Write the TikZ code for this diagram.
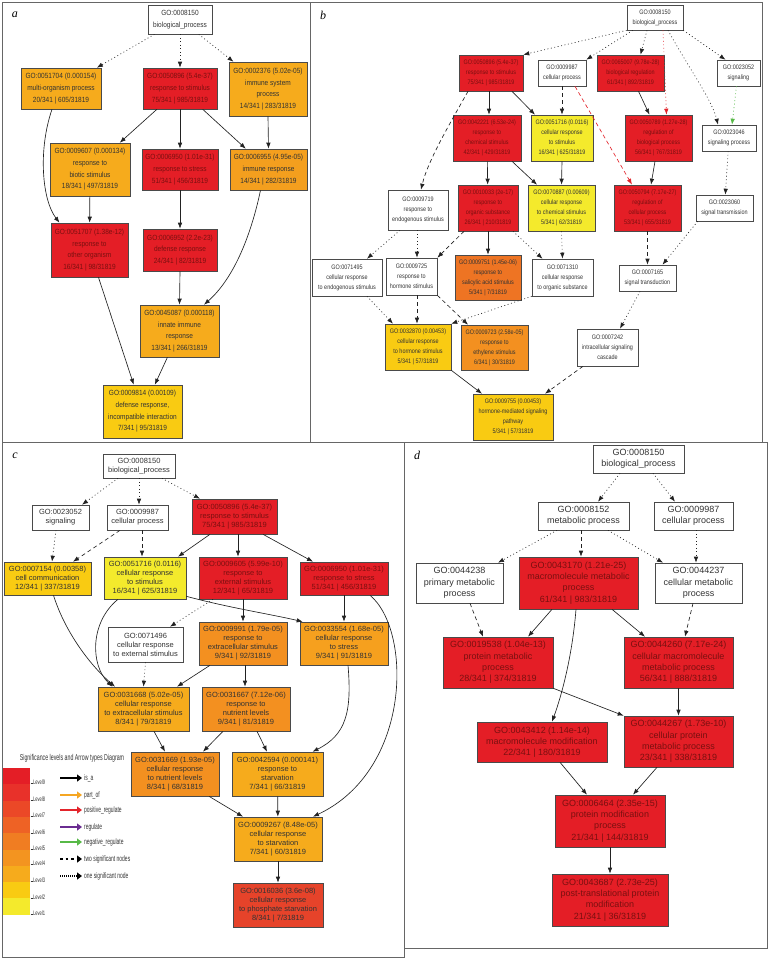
\documentclass[tikz,border=0pt]{standalone}
\usepackage{fontspec}
\setmainfont{Liberation Sans}
\newfontfamily\fa[FakeStretch=0.87]{Liberation Sans}
\newfontfamily\fb[FakeStretch=0.84]{Liberation Sans}
\newfontfamily\fc{Liberation Sans}
\newfontfamily\fleg[FakeStretch=0.62]{Liberation Sans}
\newfontfamily\fpanel{Liberation Serif}
\usetikzlibrary{arrows.meta,calc}
\definecolor{lvnine}{HTML}{E41E26}
\definecolor{lveight}{HTML}{E8312A}
\definecolor{lvseven}{HTML}{EB4827}
\definecolor{lvsix}{HTML}{EE6225}
\definecolor{lvfive}{HTML}{F07D22}
\definecolor{lvfour}{HTML}{F39420}
\definecolor{lvthree}{HTML}{F6AB1C}
\definecolor{lvtwo}{HTML}{F9CB12}
\definecolor{lvone}{HTML}{F4EA2C}
\definecolor{ambA}{HTML}{F49F1E}
\definecolor{orgB}{HTML}{EE7423}
\definecolor{orgC}{HTML}{F39020}
\definecolor{orgD}{HTML}{F6A01E}
\definecolor{redorg}{HTML}{E6432A}
\definecolor{boxline}{HTML}{4A4A4A}
\definecolor{txtdark}{HTML}{333333}
\definecolor{txtred}{HTML}{7A1010}
\definecolor{edgecol}{HTML}{222222}
\definecolor{framecol}{HTML}{666666}
\definecolor{redarrow}{HTML}{E3242B}
\definecolor{greenarrow}{HTML}{57B947}
\definecolor{purplearrow}{HTML}{6A2C91}
\definecolor{orangearrow}{HTML}{F5A623}
\tikzset{
  go/.style={draw=boxline, line width=0.6pt, inner sep=1pt, align=center, text=txtdark},
  redbox/.style={go, fill=lvnine, text=txtred},
  wbox/.style={go, fill=white},
  pa/.style={font=\fa\fontsize{7.5}{11.7}\selectfont},
  pb/.style={font=\fb\fontsize{6.5}{10}\selectfont},
  pc/.style={font=\fc\fontsize{7.5}{9}\selectfont},
  pd/.style={font=\fc\fontsize{9}{11.3}\selectfont},
  isa/.style={draw=edgecol, line width=0.65pt, -{Latex[length=6pt,width=4.5pt]}},
  dotedge/.style={isa, dash pattern=on 0.9pt off 2.6pt},
  dashedge/.style={isa, dash pattern=on 4pt off 3pt},
  panelframe/.style={draw=framecol, line width=1pt},
  panellabel/.style={font=\fpanel\itshape\fontsize{12}{12}\selectfont, inner sep=0},
  legarrow/.style={line width=2.6pt, -{Triangle[length=5pt,width=7pt]}},
  legtext/.style={font=\fleg\fontsize{8}{9}\selectfont, anchor=west, inner sep=0, text=txtdark},
  lvtext/.style={font=\fleg\fontsize{6.5}{7}\selectfont, anchor=west, inner sep=0, text=txtdark},
}
\begin{document}
\begin{tikzpicture}[x=1pt,y=-1pt]
\useasboundingbox (0,0) rectangle (768,959);
\fill[white] (0,0) rectangle (768,959);
% panel frames
\draw[panelframe] (2,2) rectangle (310,442);
\draw[panelframe] (310,2) rectangle (762,442);
\draw[panelframe] (2,442) rectangle (404,957);
\draw[panelframe] (404,442) rectangle (767,948);
\node[panellabel] (la) at (15,15) {a};
\node[panellabel] (lb) at (323,15) {b};
\node[panellabel] (lc) at (15,456) {c};
\node[panellabel] (ld) at (417,455) {d};

% ================= panel a
\node[wbox, pa, minimum width=64pt, minimum height=29pt] (A0) at (180,19.5) {GO:0008150\\biological\_process};
\node[go, pa, fill=lvthree, minimum width=80pt, minimum height=41pt] (A1) at (61,88.5) {GO:0051704 (0.000154)\\multi-organism process\\20/341 | 605/31819};
\node[redbox, pa, minimum width=74pt, minimum height=41pt] (A2) at (180,88.5) {GO:0050896 (5.4e-37)\\response to stimulus\\75/341 | 985/31819};
\node[go, pa, fill=lvthree, minimum width=78pt, minimum height=54pt] (A3) at (268,89) {GO:0002376 (5.02e-05)\\immune system\\process\\14/341 | 283/31819};
\node[go, pa, fill=lvthree, minimum width=80pt, minimum height=53pt] (A4) at (90,169.5) {GO:0009607 (0.000134)\\response to\\biotic stimulus\\18/341 | 497/31819};
\node[redbox, pa, minimum width=76pt, minimum height=41pt] (A5) at (180,169.5) {GO:0006950 (1.01e-31)\\response to stress\\51/341 | 456/31819};
\node[go, pa, fill=ambA, minimum width=77pt, minimum height=41pt] (A6) at (268.5,169.5) {GO:0006955 (4.95e-05)\\immune response\\14/341 | 282/31819};
\node[redbox, pa, minimum width=77pt, minimum height=54pt] (A7) at (89.5,250) {GO:0051707 (1.38e-12)\\response to\\other organism\\16/341 | 98/31819};
\node[redbox, pa, minimum width=74pt, minimum height=42pt] (A8) at (180,250) {GO:0006952 (2.2e-23)\\defense response\\24/341 | 82/31819};
\node[go, pa, fill=lvthree, minimum width=79pt, minimum height=52pt] (A9) at (179.5,331) {GO:0045087 (0.000118)\\innate immune\\response\\13/341 | 266/31819};
\node[go, pa, fill=lvtwo, minimum width=79pt, minimum height=53pt] (A10) at (142.5,411.5) {GO:0009814 (0.00109)\\defense response,\\incompatible interaction\\7/341 | 95/31819};

\draw[dotedge] (A0) -- (A1);
\draw[dotedge] (A0) -- (A2);
\draw[dotedge] (A0) -- (A3);
\draw[isa] (A2) -- (A4);
\draw[isa] (A2) -- (A5);
\draw[isa] (A2) -- (A6);
\draw[isa] (A3.south) -- (A6.north);
\draw[isa] ([xshift=-9pt]A1.south) .. controls (38,150) and (42,200) .. ([xshift=-30pt]A7.north);
\draw[isa] (A4) -- (A7);
\draw[isa] (A5) -- (A8);
\draw[isa] ([xshift=-8pt]A6.south) .. controls (250,240) and (232,280) .. ([xshift=24.5pt]A9.north);
\draw[isa] (A8.south) -- (A9.north);
\draw[isa] (A7) -- (A10);
\draw[isa] (A9) -- (A10);

% ================= panel b
\node[wbox, pb, minimum width=56pt, minimum height=25pt] (B0) at (655,17.5) {GO:0008150\\biological\_process};
\node[redbox, pb, minimum width=64pt, minimum height=36pt] (Brs) at (491,73) {GO:0050896 (5.4e-37)\\response to stimulus\\75/341 | 985/31819};
\node[wbox, pb, minimum width=48pt, minimum height=26pt] (Bcp) at (562,73) {GO:0009987\\cellular process};
\node[redbox, pb, minimum width=67pt, minimum height=36pt] (Breg) at (630.5,73) {GO:0065007 (9.78e-28)\\biological regulation\\61/341 | 892/31819};
\node[wbox, pb, minimum width=43pt, minimum height=26pt] (Bsig) at (738.5,73) {GO:0023052\\signaling};
\node[redbox, pb, minimum width=68pt, minimum height=46pt] (Brcs) at (487,138) {GO:0042221 (6.53e-24)\\response to\\chemical stimulus\\42/341 | 429/31819};
\node[go, pb, fill=lvone, minimum width=62pt, minimum height=46pt] (Bcrs) at (562,138) {GO:0051716 (0.0116)\\cellular response\\to stimulus\\16/341 | 625/31819};
\node[redbox, pb, minimum width=67pt, minimum height=46pt] (Brbp) at (658.5,138) {GO:0050789 (1.27e-28)\\regulation of\\biological process\\56/341 | 767/31819};
\node[wbox, pb, minimum width=54pt, minimum height=26pt] (Bsp) at (729,138) {GO:0023046\\signaling process};
\node[wbox, pb, minimum width=60pt, minimum height=40pt] (Bre) at (418,210) {GO:0009719\\response to\\endogenous stimulus};
\node[redbox, pb, minimum width=60pt, minimum height=46pt] (Bros) at (488,208) {GO:0010033 (2e-17)\\response to\\organic substance\\26/341 | 210/31819};
\node[go, pb, fill=lvone, minimum width=67pt, minimum height=46pt] (Bccs) at (561.5,208) {GO:0070887 (0.00609)\\cellular response\\to chemical stimulus\\5/341 | 62/31819};
\node[redbox, pb, minimum width=67pt, minimum height=46pt] (Brcp) at (647.5,208) {GO:0050794 (7.17e-27)\\regulation of\\cellular process\\53/341 | 655/31819};
\node[wbox, pb, minimum width=57pt, minimum height=26pt] (Bst) at (724.5,208) {GO:0023060\\signal transmission};
\node[wbox, pb, minimum width=70pt, minimum height=37pt] (Bcre) at (347,277.5) {GO:0071495\\cellular response\\to endogenous stimulus};
\node[wbox, pb, minimum width=51pt, minimum height=37pt] (Brhs) at (411.5,276.5) {GO:0009725\\response to\\hormone stimulus};
\node[go, pb, fill=orgB, minimum width=66pt, minimum height=45pt] (Bsal) at (488,277.5) {GO:0009751 (1.45e-06)\\response to\\salicylic acid stimulus\\5/341 | 7/31819};
\node[wbox, pb, minimum width=61pt, minimum height=37pt] (Bcros) at (562.5,277.5) {GO:0071310\\cellular response\\to organic substance};
\node[wbox, pb, minimum width=57pt, minimum height=26pt] (Bstran) at (647.5,278) {GO:0007165\\signal transduction};
\node[go, pb, fill=lvtwo, minimum width=66pt, minimum height=46pt] (Bcrhs) at (418,347) {GO:0032870 (0.00453)\\cellular response\\to hormone stimulus\\5/341 | 57/31819};
\node[go, pb, fill=orgC, minimum width=67pt, minimum height=45pt] (Beth) at (494.5,347.5) {GO:0009723 (2.58e-05)\\response to\\ethylene stimulus\\6/341 | 30/31819};
\node[wbox, pb, minimum width=61pt, minimum height=37pt] (Biscc) at (607.5,347.5) {GO:0007242\\intracellular signaling\\cascade};
\node[go, pb, fill=lvtwo, minimum width=80pt, minimum height=46pt] (Bhms) at (513,417) {GO:0009755 (0.00453)\\hormone-mediated signaling\\pathway\\5/341 | 57/31819};

\draw[dotedge] (B0.south west) -- (Brs.north east);
\draw[dotedge] ([xshift=6pt]B0.south west) -- (Bcp.north east);
\draw[dotedge] ([xshift=-8pt]B0.south) -- ([xshift=10pt]Breg.north);
\draw[dotedge, draw=redarrow] ([xshift=8pt]B0.south) -- ([xshift=8pt]Brbp.north);
\draw[dotedge] ([xshift=13pt]B0.south) .. controls (690,70) and (712,100) .. ([xshift=-11pt]Bsp.north);
\draw[dotedge] (B0.south east) -- ([xshift=-13pt]Bsig.north);
\draw[dotedge, draw=greenarrow] ([xshift=-2pt]Bsig.south) -- ([xshift=3pt]Bsp.north);
\draw[isa] ([xshift=8pt]Breg.south) -- ([xshift=-9pt]Brbp.north);
\draw[isa] ([xshift=-3.5pt]Brbp.south) -- ([xshift=3.5pt]Brcp.north);
\draw[dashedge, draw=redarrow] ([xshift=13pt]Bcp.south) -- ([xshift=-15.5pt]Brcp.north);
\draw[dashedge] (Bcp.south) -- (Bcrs.north);
\draw[isa] ([xshift=-2pt]Brs.south) -- ([xshift=2pt]Brcs.north);
\draw[isa] ([xshift=21pt]Brs.south) -- ([xshift=-27pt]Bcrs.north);
\draw[dashedge] ([xshift=-23pt]Brs.south) .. controls (452,120) and (428,160) .. ([xshift=3pt]Bre.north);
\draw[isa] (Brcs) -- (Bros);
\draw[isa] ([xshift=25pt]Brcs.south) -- ([xshift=-24.5pt]Bccs.north);
\draw[isa] (Bcrs.south) -- (Bccs.north);
\draw[dashedge] (Brcp.south) -- (Bstran.north);
\draw[dotedge] (Bsp) -- (Bst);
\draw[dotedge] ([xshift=2pt]Bst.south west) -- ([xshift=15pt]Bstran.north);
\draw[isa] (Bros) -- (Bsal);
\draw[dotedge] ([xshift=25pt]Bros.south) -- ([xshift=-20pt]Bcros.north);
\draw[dashedge] ([xshift=-24pt]Bros.south) -- (Brhs.north east);
\draw[dotedge] (Bccs.south) -- (Bcros.north);
\draw[dotedge] ([xshift=-18pt]Bre.south) -- ([xshift=20pt]Bcre.north);
\draw[dotedge] ([xshift=-1pt]Bre.south) -- ([xshift=5.5pt]Brhs.north);
\draw[dotedge] ([xshift=20pt]Bcre.south) -- ([xshift=-25pt]Bcrhs.north);
\draw[dashedge] ([xshift=5.5pt]Brhs.south) -- ([xshift=-1pt]Bcrhs.north);
\draw[dashedge] (Brhs.south east) -- ([xshift=-26.5pt]Beth.north);
\draw[dotedge] (Bcros.south west) -- (Bcrhs.north east);
\draw[dotedge] ([xshift=-7.5pt]Bstran.south) -- ([xshift=12.5pt]Biscc.north);
\draw[isa] (Bcrhs.south east) -- ([xshift=-31pt]Bhms.north);
\draw[dashedge] ([xshift=-24.5pt]Biscc.south) -- ([xshift=32pt]Bhms.north);

% ================= panel c
\node[wbox, pc, minimum width=72pt, minimum height=24pt] (C0) at (139,466) {GO:0008150\\biological\_process};
\node[wbox, pc, minimum width=57pt, minimum height=25pt] (Csig) at (60.5,517.5) {GO:0023052\\signaling};
\node[wbox, pc, minimum width=61pt, minimum height=25pt] (Ccp) at (137.5,517.5) {GO:0009987\\cellular process};
\node[redbox, pc, minimum width=85pt, minimum height=35pt] (Crs) at (234.5,516.5) {GO:0050896 (5.4e-37)\\response to stimulus\\75/341 | 985/31819};
\node[go, pc, fill=lvtwo, minimum width=87pt, minimum height=33pt] (Ccc) at (47.5,578.5) {GO:0007154 (0.00358)\\cell communication\\12/341 | 337/31819};
\node[go, pc, fill=lvone, minimum width=82pt, minimum height=42pt] (Ccrs) at (145,578) {GO:0051716 (0.0116)\\cellular response\\to stimulus\\16/341 | 625/31819};
\node[redbox, pc, minimum width=88pt, minimum height=42pt] (Cres) at (243,578) {GO:0009605 (5.99e-10)\\response to\\external stimulus\\12/341 | 65/31819};
\node[redbox, pc, minimum width=88pt, minimum height=33pt] (Crst) at (344,578.5) {GO:0006950 (1.01e-31)\\response to stress\\51/341 | 456/31819};
\node[wbox, pc, minimum width=75pt, minimum height=35pt] (Ccre) at (145.5,644.5) {GO:0071496\\cellular response\\to external stimulus};
\node[go, pc, fill=orgC, minimum width=88pt, minimum height=43pt] (Crexs) at (243,643.5) {GO:0009991 (1.79e-05)\\response to\\extracellular stimulus\\9/341 | 92/31819};
\node[go, pc, fill=orgD, minimum width=88pt, minimum height=43pt] (Ccrst) at (344,643.5) {GO:0033554 (1.68e-05)\\cellular response\\to stress\\9/341 | 91/31819};
\node[go, pc, fill=lvthree, minimum width=91pt, minimum height=44pt] (Ccres) at (143.5,709) {GO:0031668 (5.02e-05)\\cellular response\\to extracellular stimulus\\8/341 | 79/31819};
\node[go, pc, fill=orgC, minimum width=88pt, minimum height=44pt] (Crnl) at (246,709) {GO:0031667 (7.12e-06)\\response to\\nutrient levels\\9/341 | 81/31819};
\node[go, pc, fill=orgC, minimum width=88pt, minimum height=44pt] (Ccrnl) at (175,774) {GO:0031669 (1.93e-05)\\cellular response\\to nutrient levels\\8/341 | 68/31819};
\node[go, pc, fill=lvthree, minimum width=91pt, minimum height=44pt] (Crsv) at (277.5,774) {GO:0042594 (0.000141)\\response to\\starvation\\7/341 | 66/31819};
\node[go, pc, fill=lvthree, minimum width=88pt, minimum height=44pt] (Ccrsv) at (278,839) {GO:0009267 (8.48e-05)\\cellular response\\to starvation\\7/341 | 60/31819};
\node[go, pc, fill=redorg, minimum width=90pt, minimum height=44pt] (Ccrps) at (278,905) {GO:0016036 (3.6e-08)\\cellular response\\to phosphate starvation\\8/341 | 7/31819};

\draw[dotedge] ([xshift=-21pt]C0.south) -- ([xshift=21.5pt]Csig.north);
\draw[dotedge] (C0.south) -- ([xshift=1.5pt]Ccp.north);
\draw[dotedge] ([xshift=23pt]C0.south) -- ([xshift=-34.5pt]Crs.north);
\draw[dotedge] ([xshift=-4.5pt]Csig.south) -- ([xshift=4.5pt]Ccc.north);
\draw[dashedge] ([xshift=-17.5pt]Ccp.south) -- ([xshift=25.5pt]Ccc.north);
\draw[dashedge] ([xshift=4.5pt]Ccp.south) -- ([xshift=-3pt]Ccrs.north);
\draw[isa] ([xshift=-24.5pt]Crs.south) -- ([xshift=33pt]Ccrs.north);
\draw[isa] ([xshift=3.5pt]Crs.south) -- ([xshift=-5pt]Cres.north);
\draw[isa] ([xshift=28.5pt]Crs.south) -- ([xshift=-31pt]Crst.north);
\draw[isa] ([yshift=3pt]Ccrs.south east) .. controls (230,608) and (270,614) .. ([xshift=3pt]Ccrst.north west);
\draw[dotedge] ([xshift=-30pt]Cres.south) -- ([xshift=24.5pt]Ccre.north);
\draw[isa] (Cres) -- (Crexs);
\draw[isa] (Crst) -- (Ccrst);
\draw[isa] ([xshift=26pt]Crst.south) .. controls (412,630) and (412,770) .. ([xshift=35pt]Ccrsv.north);
\draw[isa] ([xshift=4pt]Ccrst.south) .. controls (352,712) and (346,735) .. ([xshift=35pt]Crsv.north);
\draw[isa] ([xshift=6pt]Ccc.south) .. controls (65,632) and (90,665) .. ([xshift=-28.5pt]Ccres.north);
\draw[isa] ([xshift=-27pt]Ccrs.south) .. controls (90,622) and (90,665) .. ([xshift=-31pt]Ccres.north);
\draw[dotedge] (Ccre.south) -- (Ccres.north);
\draw[isa] ([xshift=-33pt]Crexs.south) -- ([xshift=33.5pt]Ccres.north);
\draw[isa] ([xshift=2pt]Crexs.south) -- ([xshift=-1pt]Crnl.north);
\draw[isa] ([xshift=10.5pt]Ccres.south) -- ([xshift=-10pt]Ccrnl.north);
\draw[isa] ([xshift=-23pt]Crnl.south) -- ([xshift=28pt]Ccrnl.north);
\draw[isa] ([xshift=11pt]Crnl.south) -- ([xshift=-10.5pt]Crsv.north);
\draw[isa] ([xshift=34pt]Ccrnl.south) -- ([xshift=-35pt]Ccrsv.north);
\draw[isa] (Crsv) -- (Ccrsv);
\draw[isa] (Ccrsv) -- (Ccrps);

% ================= legend
\node[font=\fleg\fontsize{8.5}{9}\selectfont, inner sep=0, text=txtdark] (legtitle) at (72,758) {Significance levels and Arrow types Diagram};
\fill[lvnine]  (3,768.0) rectangle (30,784.4);
\fill[lveight] (3,784.3) rectangle (30,800.7);
\fill[lvseven] (3,800.6) rectangle (30,817.0);
\fill[lvsix]   (3,816.9) rectangle (30,833.3);
\fill[lvfive]  (3,833.2) rectangle (30,849.6);
\fill[lvfour]  (3,849.5) rectangle (30,865.9);
\fill[lvthree] (3,865.8) rectangle (30,882.2);
\fill[lvtwo]   (3,882.1) rectangle (30,898.5);
\fill[lvone]   (3,898.4) rectangle (30,915.0);
\foreach \lab/\yy in {9/782,8/799,7/815,6/832,5/848,4/863,3/880,2/897,1/913}{
  \draw[txtdark, line width=0.4pt] (30.5,\yy+1.5) -- (32.5,\yy+1.5);
  \node[lvtext] (lv\lab) at (33,\yy) {Level\lab};
}
\coordinate (arA1) at (60,778); \coordinate (arA2) at (82,778);
\coordinate (arB1) at (60,795); \coordinate (arB2) at (82,795);
\coordinate (arC1) at (60,810); \coordinate (arC2) at (82,810);
\coordinate (arD1) at (60,827); \coordinate (arD2) at (82,827);
\coordinate (arE1) at (60,842); \coordinate (arE2) at (82,842);
\coordinate (arF1) at (60,859); \coordinate (arF2) at (82,859);
\coordinate (arG1) at (60,876); \coordinate (arG2) at (82,876);
\draw[legarrow, draw=black] (arA1) -- (arA2);
\draw[legarrow, draw=orangearrow] (arB1) -- (arB2);
\draw[legarrow, draw=redarrow] (arC1) -- (arC2);
\draw[legarrow, draw=purplearrow] (arD1) -- (arD2);
\draw[legarrow, draw=greenarrow] (arE1) -- (arE2);
\draw[legarrow, draw=black, dash pattern=on 2.6pt off 3pt] (arF1) -- (arF2);
\draw[legarrow, draw=black, dash pattern=on 1pt off 1pt] (arG1) -- (arG2);
\node[legtext] (tA) at (84,778) {is\_a};
\node[legtext] (tB) at (84,795) {part\_of};
\node[legtext] (tC) at (84,810) {positive\_regulate};
\node[legtext] (tD) at (84,827) {regulate};
\node[legtext] (tE) at (84,842) {negative\_regulate};
\node[legtext] (tF) at (84,859) {two significant nodes};
\node[legtext] (tG) at (84,876) {one significant node};

% ================= panel d
\node[wbox, pd, minimum width=91pt, minimum height=28pt] (D0) at (638.5,459) {GO:0008150\\biological\_process};
\node[wbox, pd, minimum width=91pt, minimum height=28pt] (Dmp) at (583.5,516) {GO:0008152\\metabolic process};
\node[wbox, pd, minimum width=79pt, minimum height=28pt] (Dcp) at (693.5,516) {GO:0009987\\cellular process};
\node[wbox, pd, minimum width=87pt, minimum height=40pt] (Dpmp) at (459.5,583) {GO:0044238\\primary metabolic\\process};
\node[redbox, pd, minimum width=119pt, minimum height=52pt] (Dmmp) at (578.5,583) {GO:0043170 (1.21e-25)\\macromolecule metabolic\\process\\61/341 | 983/31819};
\node[wbox, pd, minimum width=87pt, minimum height=40pt] (Dcmp) at (698.5,583) {GO:0044237\\cellular metabolic\\process};
\node[redbox, pd, minimum width=110pt, minimum height=51pt] (Dpmp2) at (498,662.5) {GO:0019538 (1.04e-13)\\protein metabolic\\process\\28/341 | 374/31819};
\node[redbox, pd, minimum width=109pt, minimum height=51pt] (Dcmmp) at (678.5,662.5) {GO:0044260 (7.17e-24)\\cellular macromolecule\\metabolic process\\56/341 | 888/31819};
\node[redbox, pd, minimum width=130pt, minimum height=40pt] (Dmm) at (542,742) {GO:0043412 (1.14e-14)\\macromolecule modification\\22/341 | 180/31819};
\node[redbox, pd, minimum width=109pt, minimum height=51pt] (Dcpmp) at (678.5,741.5) {GO:0044267 (1.73e-10)\\cellular protein\\metabolic process\\23/341 | 338/31819};
\node[redbox, pd, minimum width=110pt, minimum height=52pt] (Dpm) at (610,821) {GO:0006464 (2.35e-15)\\protein modification\\process\\21/341 | 144/31819};
\node[redbox, pd, minimum width=116pt, minimum height=52pt] (Dptm) at (610,900) {GO:0043687 (2.73e-25)\\post-translational protein\\modification\\21/341 | 36/31819};

\draw[dotedge] ([xshift=-18.5pt]D0.south) -- ([xshift=14.5pt]Dmp.north);
\draw[dotedge] ([xshift=14.5pt]D0.south) -- ([xshift=-18.5pt]Dcp.north);
\draw[dotedge] ([xshift=-26.5pt]Dmp.south) -- ([xshift=38.5pt]Dpmp.north);
\draw[dashedge] ([xshift=-2.5pt]Dmp.south) -- ([xshift=2.5pt]Dmmp.north);
\draw[dotedge] ([xshift=24.5pt]Dmp.south) -- ([xshift=-35.5pt]Dcmp.north);
\draw[dotedge] ([xshift=2.5pt]Dcp.south) -- ([xshift=-2.5pt]Dcmp.north);
\draw[dashedge] ([xshift=10.5pt]Dpmp.south) -- ([xshift=-15pt]Dpmp2.north);
\draw[isa] ([xshift=-26.5pt]Dmmp.south) -- ([xshift=30pt]Dpmp2.north);
\draw[isa] ([xshift=33.5pt]Dmmp.south) -- ([xshift=-33.5pt]Dcmmp.north);
\draw[isa] ([xshift=-2.5pt]Dmmp.south) .. controls (572,660) and (560,700) .. ([xshift=10pt]Dmm.north);
\draw[dashedge] ([xshift=-5.5pt]Dcmp.south) -- ([xshift=6.5pt]Dcmmp.north);
\draw[isa] (Dpmp2.south east) -- (Dcpmp.north west);
\draw[isa] (Dcmmp) -- (Dcpmp);
\draw[isa] ([xshift=18pt]Dmm.south) -- ([xshift=-23pt]Dpm.north);
\draw[isa] ([xshift=-21.5pt]Dcpmp.south) -- ([xshift=23pt]Dpm.north);
\draw[isa] (Dpm) -- (Dptm);
\end{tikzpicture}
\end{document}
